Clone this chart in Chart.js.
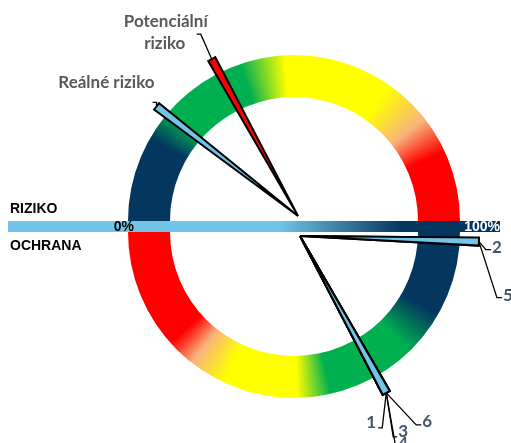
<!DOCTYPE html>
<html>
<head>
<meta charset="utf-8">
<script src="https://cdn.jsdelivr.net/npm/chart.js@4.4.1/dist/chart.umd.min.js"></script>
<style>
  html, body { margin: 0; padding: 0; background: #fff; }
</style>
</head>
<body>
<canvas id="gauge" width="511" height="443"></canvas>
<script>
// readings in percent of each half of the dial (0 = left end, 100 = right end)
const riskNames = ['Potenciální riziko', 'Reálné riziko'];
const riskValues = [34, 21];
const protectNames = ['1', '2', '3', '4', '5', '6'];
const protectValues = [66, 99, 66, 66, 99, 66];
const sideNames = ['RIZIKO', 'OCHRANA'];
const barTicks = ['0%', '100%'];

// geometry, in px around the dial centre (y up)
const OUTER = 166, INNER = 124, BAR_H = 11;
const NEEDLE_LEN = 179, NEEDLE_HALF = 4;
const riskPivot = { x: 4, y: 10.5 };
const protectPivot = { x: 6, y: -9.5 };
const barFrom = -286, barTo = 206;

const C = {
    navy: '#04375f', green: '#00b050', yellow: '#ffff00', orange: '#f8b47c',
    red: '#ff0000', sky: '#72c5e9', grey: '#595959', slate: '#44546a'
};

// colour bands round the ring, degrees clockwise from the left end
const ringStops = [
    [0, C.navy], [30, C.navy], [42, C.green], [71, C.green], [87, C.yellow],
    [125, C.yellow], [142, C.orange], [155, C.red], [179.9, C.red],
    [180, C.navy], [210, C.navy], [226, C.green], [257, C.green], [269, C.yellow],
    [295, C.yellow], [308, C.orange], [318, C.red], [360, C.red]
];

// leader lines: offsets from the needle tip in screen px (dx right, dy down)
const riskLeaders = [
    { path: [[-11, -25], [-15, -25]], text: [[-46, -38], [-47, -16]], align: 'center' },
    { path: [[0, -4], [-4, -4]], text: [[-2, -24]], align: 'right' }
];
const protectLeaders = [
    { path: [[-4, 35], [-8, 35]], text: [[-10, 30]], align: 'right' },
    { path: [[7, 8], [12, 8]], text: [[13, 6]], align: 'left' },
    { path: [[7, 44], [11, 44]], text: [[12, 39]], align: 'left' },
    { path: [[10, 57], [14, 57]], text: [[12, 51]], align: 'left' },
    { path: [[18, 56], [23, 56]], text: [[24, 54]], align: 'left' },
    { path: [[30, 32], [35, 32]], text: [[36, 29]], align: 'left' }
];

function needle(pivot, value, below) {
    const t = below ? Math.PI * (1 + value / 100) : Math.PI * (1 - value / 100);
    const c = Math.cos(t), s = Math.sin(t);
    const tip = { x: pivot.x + NEEDLE_LEN * c, y: pivot.y + NEEDLE_LEN * s };
    const nx = -s * NEEDLE_HALF, ny = c * NEEDLE_HALF;
    return {
        tip: tip,
        shape: [pivot, { x: tip.x + nx, y: tip.y + ny }, { x: tip.x - nx, y: tip.y - ny }, pivot]
    };
}

const datasets = [];
const texts = [];

datasets.push({
    data: [{ x: barFrom, y: 0 }, { x: barTo, y: 0 }],
    borderWidth: BAR_H,
    borderCapStyle: 'butt',
    borderColor: function (ctx) {
        const chart = ctx.chart;
        if (!chart.chartArea) return C.sky;
        const x0 = chart.scales.x.getPixelForValue(barFrom);
        const x1 = chart.scales.x.getPixelForValue(barTo);
        const g = chart.ctx.createLinearGradient(x0, 0, x1, 0);
        g.addColorStop(0, C.sky);
        g.addColorStop(0.55, C.sky);
        g.addColorStop(0.8, C.navy);
        g.addColorStop(1, C.navy);
        return g;
    },
    fill: false,
    order: 3
});

function addNeedles(names, values, pivot, below, leaders, color, fill) {
    names.forEach(function (name, i) {
        const n = needle(pivot, values[i], below);
        datasets.push({
            data: n.shape,
            fill: 'shape',
            backgroundColor: fill[i] || fill[0],
            borderColor: '#000',
            borderWidth: 2,
            borderJoinStyle: 'miter',
            order: 2
        });
        const lead = leaders[i];
        const pts = [n.tip].concat(lead.path.map(function (p) {
            return { x: n.tip.x + p[0], y: n.tip.y - p[1] };
        }));
        datasets.push({ data: pts, borderColor: '#000', borderWidth: 1.3, fill: false, order: 1 });
        const lines = lead.text.length > 1 ? name.split(' ') : [name];
        lines.forEach(function (line, k) {
            texts.push({
                text: line, x: n.tip.x + lead.text[k][0], y: n.tip.y - lead.text[k][1],
                align: lead.align, font: 'bold 17px Lato', color: color
            });
        });
    });
}

addNeedles(riskNames, riskValues, riskPivot, false, riskLeaders, C.grey, [C.red, C.sky]);
addNeedles(protectNames, protectValues, protectPivot, true, protectLeaders, C.slate, [C.sky]);

texts.push({ text: sideNames[0], x: -284, y: 17.5, align: 'left', font: 'bold 14px "Liberation Sans"', color: '#000' });
texts.push({ text: sideNames[1], x: -284, y: -19.5, align: 'left', font: 'bold 14px "Liberation Sans"', color: '#000' });
texts.push({ text: barTicks[0], x: -OUTER + 6, y: -0.5, align: 'right', font: 'bold 14px "Liberation Sans"', color: '#000' });
texts.push({ text: barTicks[1], x: barTo, y: -0.5, align: 'right', font: 'bold 14px "Liberation Sans"', color: '#fff' });

// the two half rings, split apart by the bar
const ringPlugin = {
    id: 'ring',
    beforeDatasetsDraw: function (chart) {
        const ctx = chart.ctx, sx = chart.scales.x, sy = chart.scales.y;
        const cx = sx.getPixelForValue(0);
        const ro = sx.getPixelForValue(OUTER) - cx;
        const ri = sx.getPixelForValue(INNER) - cx;
        [[BAR_H / 2, Math.PI, 2 * Math.PI], [-BAR_H / 2, 0, Math.PI]].forEach(function (h) {
            const cy = sy.getPixelForValue(h[0]);
            const g = ctx.createConicGradient(Math.PI, cx, cy);
            ringStops.forEach(function (s) { g.addColorStop(s[0] / 360, s[1]); });
            ctx.save();
            ctx.beginPath();
            ctx.arc(cx, cy, ro, h[1], h[2]);
            ctx.arc(cx, cy, ri, h[2], h[1], true);
            ctx.closePath();
            ctx.fillStyle = g;
            ctx.fill();
            ctx.restore();
        });
    }
};

const labelPlugin = {
    id: 'labels',
    afterDatasetsDraw: function (chart) {
        const ctx = chart.ctx, sx = chart.scales.x, sy = chart.scales.y;
        ctx.save();
        ctx.textBaseline = 'middle';
        texts.forEach(function (t) {
            ctx.font = t.font;
            ctx.fillStyle = t.color;
            ctx.textAlign = t.align;
            ctx.fillText(t.text, sx.getPixelForValue(t.x), sy.getPixelForValue(t.y));
        });
        ctx.restore();
    }
};

new Chart(document.getElementById('gauge'), {
    type: 'scatter',
    data: { datasets: datasets },
    options: {
        responsive: false,
        animation: false,
        showLine: true,
        layout: { padding: 0 },
        elements: { point: { radius: 0, hoverRadius: 0 }, line: { tension: 0 } },
        scales: {
            x: { type: 'linear', display: false, min: -294, max: 217 },
            y: { type: 'linear', display: false, min: -216.5, max: 226.5 }
        },
        plugins: { legend: { display: false }, tooltip: { enabled: false } }
    },
    plugins: [ringPlugin, labelPlugin]
});
</script>
</body>
</html>
